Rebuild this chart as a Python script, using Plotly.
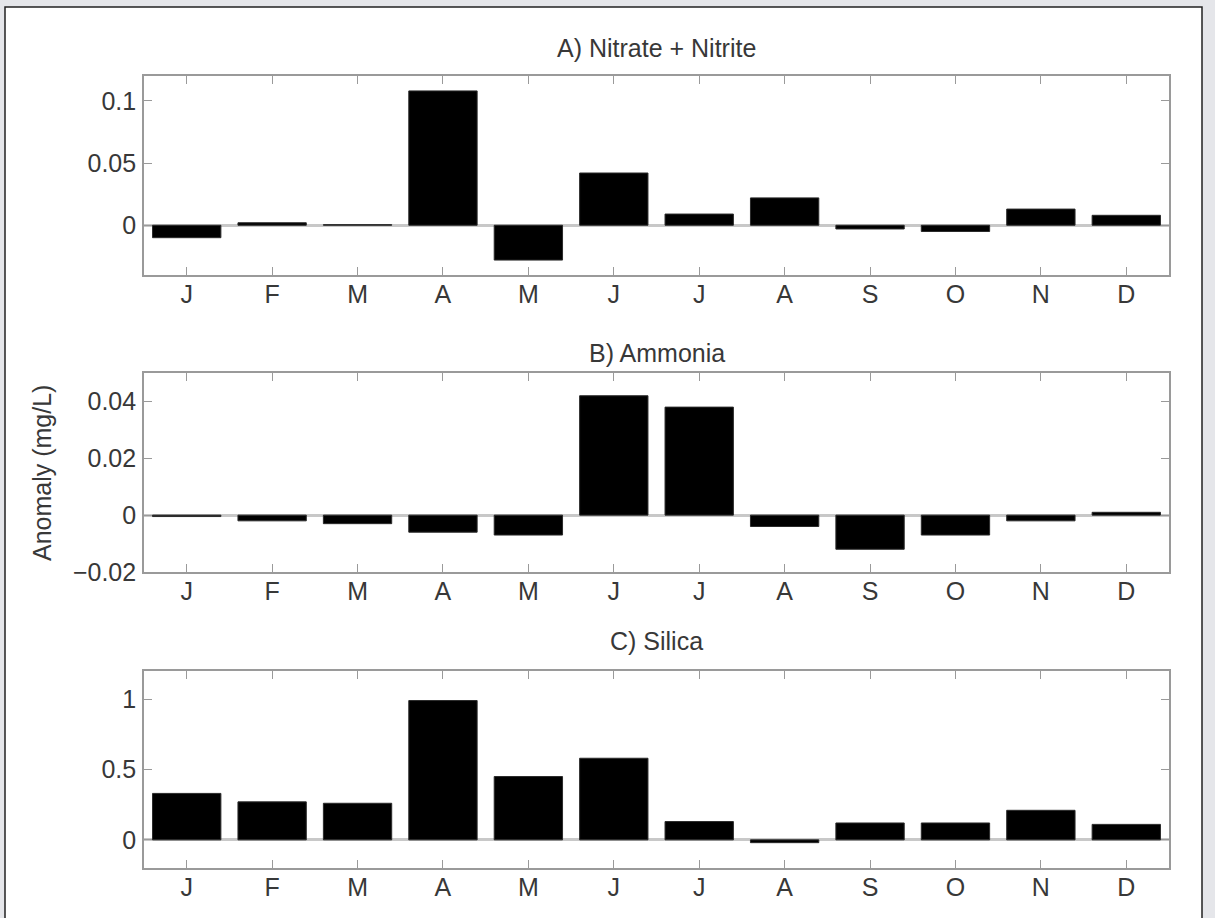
import plotly.graph_objects as go

months = ["J", "F", "M", "A", "M", "J", "J", "A", "S", "O", "N", "D"]
month_pos = list(range(1, 13))

nitrate_nitrite = [-0.010, 0.002, 0.0005, 0.108, -0.028, 0.042, 0.009, 0.022, -0.003, -0.005, 0.013, 0.008]
ammonia = [-0.0005, -0.002, -0.003, -0.006, -0.007, 0.042, 0.038, -0.004, -0.012, -0.007, -0.002, 0.001]
silica = [0.33, 0.27, 0.26, 0.99, 0.45, 0.58, 0.13, -0.02, 0.12, 0.12, 0.21, 0.11]

titles = ["A) Nitrate + Nitrite", "B) Ammonia", "C) Silica"]
y_ranges = [[-0.04, 0.12], [-0.02, 0.05], [-0.2, 1.2]]
y_ticks = [[0, 0.05, 0.1], [-0.02, 0, 0.02, 0.04], [0, 0.5, 1]]
y_ticktext = [["0", "0.05", "0.1"], ["\u22120.02", "0", "0.02", "0.04"], ["0", "0.5", "1"]]
y_label = "Anomaly (mg/L)"

W, H = 1215, 918
FONT = "Liberation Sans, Arial, sans-serif"
FS = 25
TXT = "#383838"
AX = "#9a9a9a"

# pixel layout of the three plot areas (top, bottom)
px_left, px_right = 144, 1169
rows_px = [(76, 275), (373, 572), (671, 868)]
title_px = [48, 353, 641]

fig = go.Figure()
series = [nitrate_nitrite, ammonia, silica]
for i, vals in enumerate(series):
    n = "" if i == 0 else str(i + 1)
    fig.add_trace(go.Bar(
        x=month_pos, y=vals, width=0.8,
        marker=dict(color="black", line=dict(color="#2a2a2a", width=1)),
        xaxis="x" + n, yaxis="y" + n, showlegend=False,
    ))
    top, bot = rows_px[i]
    dom_y = [1 - bot / H, 1 - top / H]
    dom_x = [px_left / W, px_right / W]
    fig.update_layout(**{
        "xaxis" + n: dict(
            domain=dom_x, anchor="y" + n, range=[0.5, 12.5],
            tickvals=month_pos, ticktext=months, ticks="inside", ticklen=8,
            tickcolor=AX, tickwidth=1.2, showline=True, linecolor=AX, linewidth=1.6,
            mirror="ticks", showgrid=False, zeroline=False, automargin=False,
            tickfont=dict(family=FONT, size=FS, color=TXT),
            ticklabelstandoff=-4, fixedrange=True,
        ),
        "yaxis" + n: dict(
            domain=dom_y, anchor="x" + n, range=y_ranges[i],
            tickvals=y_ticks[i], ticktext=y_ticktext[i], ticks="inside", ticklen=8,
            tickcolor=AX, tickwidth=1.2, showline=True, linecolor=AX, linewidth=1.6,
            mirror="ticks", showgrid=False, zeroline=True, zerolinecolor="#c8c8c8",
            zerolinewidth=2.5, automargin=False,
            tickfont=dict(family=FONT, size=FS, color=TXT),
            ticklabelstandoff=1, fixedrange=True,
        ),
    })
    fig.add_annotation(
        text=titles[i], xref="paper", yref="paper",
        x=(px_left + px_right) / 2 / W, y=1 - title_px[i] / H,
        xanchor="center", yanchor="middle", showarrow=False,
        font=dict(family=FONT, size=FS, color=TXT),
    )

fig.add_annotation(
    text=y_label, xref="paper", yref="paper", x=42 / W, y=1 - 473 / H,
    xanchor="center", yanchor="middle", textangle=-90, showarrow=False,
    font=dict(family=FONT, size=FS, color=TXT),
)

fig.add_shape(
    type="rect", xref="paper", yref="paper", layer="below",
    x0=5 / W, x1=1202 / W, y0=-0.05, y1=1 - 7 / H,
    fillcolor="white", line=dict(color="#222222", width=1.5),
)

fig.update_layout(
    template="none", width=W, height=H,
    margin=dict(l=0, r=0, t=0, b=0, pad=0),
    paper_bgcolor="#e5e6ea", plot_bgcolor="rgba(0,0,0,0)",
    bargap=0.2, showlegend=False,
)

fig.write_html(
    "out.html",
    config={"displayModeBar": False},
    post_script="document.body.style.margin='0px';document.body.style.overflow='hidden';",
)
